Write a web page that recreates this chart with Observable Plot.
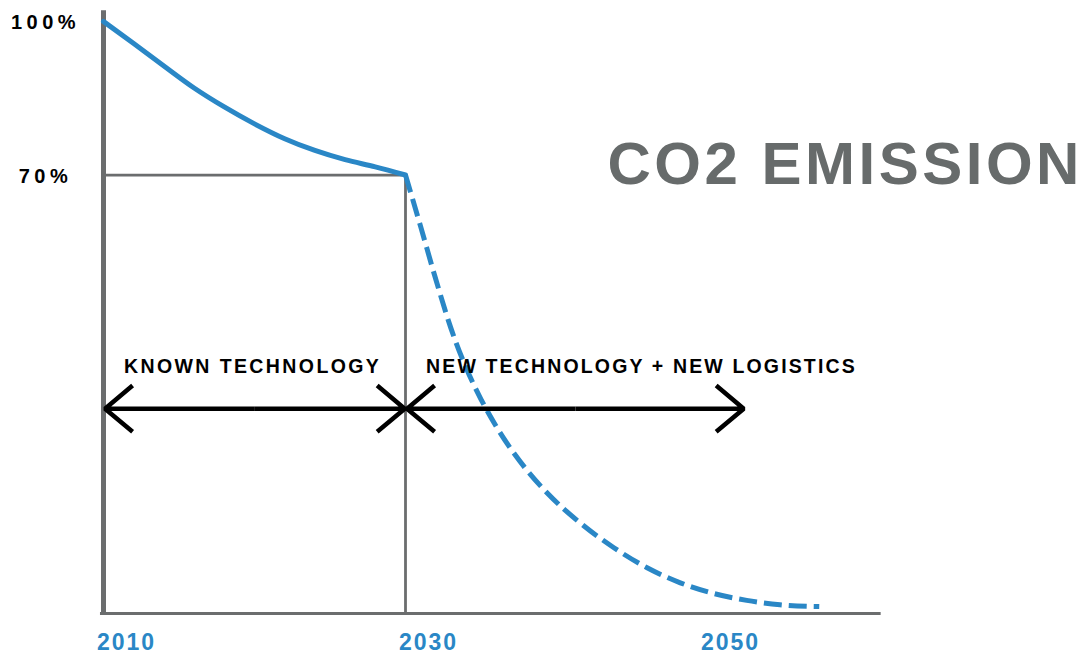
<!DOCTYPE html>
<html>
<head>
<meta charset="utf-8">
<script src="https://cdn.jsdelivr.net/npm/d3@7"></script>
<script src="https://cdn.jsdelivr.net/npm/@observablehq/plot@0.6"></script>
<style>
  html, body { margin: 0; padding: 0; background: #ffffff; }
  #chart svg { display: block; }
</style>
</head>
<body>
<div id="chart"></div>
<script>
// ---- data ----
const solidYears  = [2010, 2012, 2014, 2016, 2018, 2020, 2022, 2024, 2026, 2028, 2030];
const solidValues = [100, 95.7, 91.3, 87.0, 83.3, 80.0, 77.1, 74.8, 73.0, 71.6, 70];

const dashedYears  = [2030, 2031, 2032, 2033, 2034, 2035, 2036, 2037, 2038, 2039.4, 2041.6, 2043.8, 2046, 2048.2, 2050.4, 2052.6, 2054.8, 2057.4];
const dashedValues = [70, 61.8, 53.4, 45.6, 39.3, 34.2, 29.9, 26.2, 23.0, 19.2, 14.4, 10.5, 7.3, 4.9, 3.2, 2.1, 1.4, 1.1];

const yTickValues = [100, 70];
const yTickLabels = ["100%", "70%"];
const xTickValues = [2010, 2030, 2050];

const phaseLabels = ["KNOWN TECHNOLOGY", "NEW TECHNOLOGY + NEW LOGISTICS"];
const phaseStart  = [2010.1, 2030.1];
const phaseEnd    = [2029.95, 2052.4];
const arrowLevel  = 32.7;

const milestoneYear  = 2030;
const milestoneValue = 70;
const axisStartYear  = 2009.8;
const axisEndYear    = 2061.5;
const axisTopValue   = 102.1;
const chartTitle     = "CO2 EMISSION";

// ---- build tables ----
const solid  = solidYears.map((x, i) => ({x, y: solidValues[i]}));
const dashed = dashedYears.map((x, i) => ({x, y: dashedValues[i]}));
const yTicks = yTickValues.map((v, i) => ({v, label: yTickLabels[i]}));
const phases = phaseLabels.map((label, i) => ({label, s: phaseStart[i], e: phaseEnd[i]}));
const arrowHalves = phases.flatMap(p => {
  const m = (p.s + p.e) / 2;
  return [{x1: m, x2: p.s}, {x1: m, x2: p.e}];
});

// the schematic y axis is compressed above the 70% mark
const upperRatio = 0.817;
const yTransform = v => (v <= milestoneValue ? v : milestoneValue + (v - milestoneValue) * upperRatio);

const blue = "#2a87c6";
const gray = "#6b6d6e";
const font = "'Liberation Sans', Arial, Helvetica, sans-serif";

const chart = Plot.plot({
  width: 1086,
  height: 653,
  margin: 0,
  style: {fontFamily: font, background: "#ffffff", overflow: "visible"},
  x: {domain: [2010, 2030], range: [103, 405], axis: null},
  y: {transform: yTransform, domain: [0, yTransform(100)], range: [613, 21], axis: null},
  marks: [
    // reference lines
    Plot.ruleY([milestoneValue], {x1: 2010, x2: milestoneYear, stroke: gray, strokeWidth: 2.8}),
    Plot.ruleX([milestoneYear], {y1: 0, y2: milestoneValue, stroke: gray, strokeWidth: 2.8}),
    // axis lines
    Plot.ruleY([0], {x1: axisStartYear, x2: axisEndYear, stroke: gray, strokeWidth: 3}),
    Plot.ruleX([2010], {y1: -0.3, y2: axisTopValue, stroke: gray, strokeWidth: 5}),
    // emission curve
    Plot.line(solid, {x: "x", y: "y", curve: "monotone-x", stroke: blue, strokeWidth: 5}),
    Plot.line(dashed, {x: "x", y: "y", curve: "monotone-x", stroke: blue, strokeWidth: 5, strokeDasharray: "18 7", strokeLinecap: "butt"}),
    // phase arrows
    Plot.arrow(arrowHalves, {x1: "x1", x2: "x2", y1: () => arrowLevel, y2: () => arrowLevel, stroke: "#000000", strokeWidth: 4.5, headAngle: 80, headLength: 12, strokeLinejoin: "miter", strokeLinecap: "butt"}),
    Plot.text(phases, {x: "s", y: () => arrowLevel, text: "label", textAnchor: "start", lineAnchor: "bottom", dx: 19, dy: -35.7, fontSize: 19.5, fontWeight: "bold", fill: "#000000"}),
    // y tick labels
    Plot.text(yTicks, {x: () => 2010, y: "v", text: "label", textAnchor: "middle", lineAnchor: "middle", dx: -58, dy: 1.5, fontSize: 20, fontWeight: "bold", fill: "#000000"}),
    // x tick labels
    Plot.text(xTickValues, {x: d => d, y: () => 0, text: d => String(d), textAnchor: "middle", lineAnchor: "bottom", dx: 23, dy: 36.5, fontSize: 23, fontWeight: "bold", fill: blue}),
    // title
    Plot.text([chartTitle], {frameAnchor: "top-left", text: d => d, textAnchor: "start", lineAnchor: "bottom", dx: 607, dy: 183.3, fontSize: 60, fontWeight: "bold", fill: "#676b6b"})
  ]
});

// letter spacing per text (Plot has no letterSpacing option)
const spacing = new Map([
  [phaseLabels[0], "2.4px"],
  [phaseLabels[1], "2.15px"],
  ...yTickLabels.map(t => [t, "4.5px"]),
  ...xTickValues.map(t => [String(t), "2px"]),
  [chartTitle, "3.5px"]
]);
chart.querySelectorAll("text").forEach(el => {
  const s = spacing.get(el.textContent);
  if (s) el.style.letterSpacing = s;
});

document.getElementById("chart").append(chart);
</script>
</body>
</html>
